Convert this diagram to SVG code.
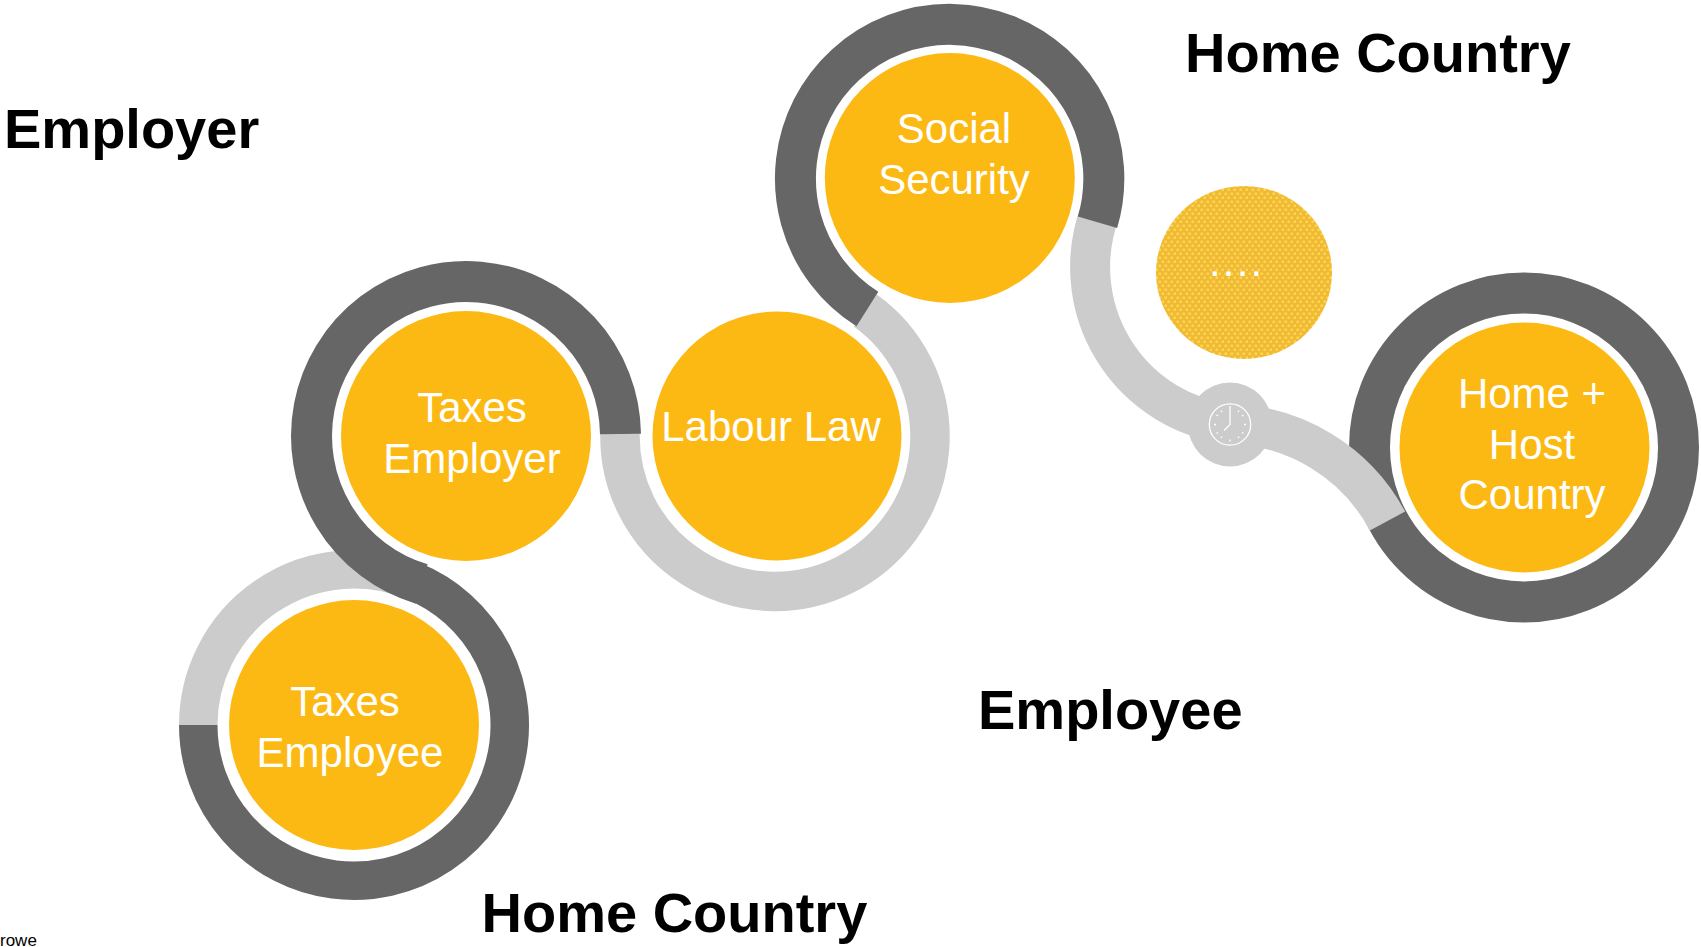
<svg xmlns="http://www.w3.org/2000/svg" width="1701" height="947" viewBox="0 0 1701 947">
<style>
text{font-family:"Liberation Sans",Arial,sans-serif}
.h{font-size:56px;font-weight:700;fill:#000}
.l{font-size:42px;fill:#fff;text-anchor:middle}
.dk,.lt{fill:none;stroke-width:40}
.dk{stroke:#666}
.lt{stroke:#ccc}
.y{fill:#fdb913}
.t{stroke:#fff;stroke-width:1.3;fill:none}
</style>
<defs>
<pattern id="tex" width="6" height="8" patternUnits="userSpaceOnUse">
<rect width="6" height="8" fill="#f0b936"/>
<rect x="0.500" y="0.500" width="2.500" height="2.500" fill="#fdd64a"/>
<rect x="3.500" y="4.500" width="2.500" height="2.500" fill="#fdd64a"/>
</pattern>
</defs>
<rect width="1701" height="947" fill="#fff"/>
<g id="connectors">
<path class="lt" style="stroke-width:38.500" d="M198.250 725A155.750 155.750 0 0 1 412.300 580.600"/>
<path class="lt" style="stroke-width:39.500" d="M620 433A155 155 0 1 0 865.300 310.500"/>
<path class="lt" d="M1100 212A158 158 0 0 0 1230 424"/>
<path class="dk" style="stroke-width:38.500" d="M198.250 725A155.750 155.750 0 1 0 412.300 580.600"/>
<path class="dk" style="stroke-width:41" d="M421.700 584A154.500 154.500 0 1 1 620.500 434"/>
<path class="dk" style="stroke-width:41" d="M867.400 309A154.200 154.200 0 1 1 1097.500 222.300"/>
<circle class="dk" style="stroke-width:41" cx="1524" cy="447.500" r="154.500"/>
<path class="lt" d="M1230 424A184 184 0 0 1 1387.500 521"/>
</g>
<g id="node-taxes-employee">
<circle class="y" cx="354" cy="725" r="125"/>
<text class="l" x="345" y="716">Taxes</text>
<text class="l" x="350" y="767">Employee</text>
</g>
<g id="node-taxes-employer">
<circle class="y" cx="466" cy="436" r="125"/>
<text class="l" x="472" y="422">Taxes</text>
<text class="l" x="472" y="473">Employer</text>
</g>
<g id="node-labour-law">
<circle class="y" cx="777" cy="436" r="124.500"/>
<text class="l" x="771" y="441">Labour Law</text>
</g>
<g id="node-social-security">
<circle class="y" cx="949.800" cy="178" r="125"/>
<text class="l" x="954" y="143">Social</text>
<text class="l" x="954" y="194">Security</text>
</g>
<g id="node-more">
<ellipse cx="1244" cy="272.500" rx="88" ry="86.500" fill="url(#tex)"/>
<text x="1209" y="275.500" font-size="42" letter-spacing="2.200" fill="#fff">....</text>
</g>
<g id="node-clock">
<circle cx="1230" cy="424.500" r="42" fill="#ccc"/>
<circle class="t" cx="1230" cy="424.500" r="20.700"/>
<path class="t" d="M1230 406V424.500L1224 430.500"/>
<path class="t" d="M1239 410.500l-1 1.500M1243.500 415l-1.500 1M1246 424.500h-2M1243.500 433.500l-1.500-1M1239 438l-1-1.500M1230 441.500v-2M1221 438l1-1.500M1216.500 433.500l1.500-1M1214 424.500h2M1216.500 415l1.500 1M1221 410.500l1 1.500"/>
</g>
<g id="node-home-host">
<circle class="y" cx="1524.500" cy="447.500" r="125"/>
<text class="l" x="1532" y="408">Home +</text>
<text class="l" x="1532" y="459">Host</text>
<text class="l" x="1532" y="509">Country</text>
</g>
<g id="labels">
<text class="h" x="4" y="148">Employer</text>
<text class="h" x="1185" y="72">Home Country</text>
<text class="h" x="978" y="729">Employee</text>
<text class="h" x="481.500" y="932">Home Country</text>
<text x="0" y="946" font-size="17" fill="#000">rowe</text>
</g>
</svg>
